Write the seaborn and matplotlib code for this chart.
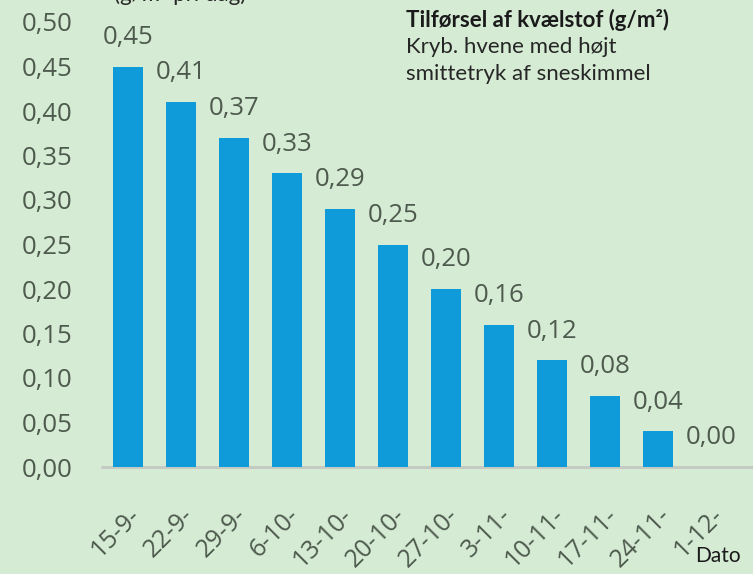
import matplotlib
matplotlib.use("Agg")
import matplotlib.pyplot as plt
import seaborn as sns
import pandas as pd

# Data
dates = ["15-9-", "22-9-", "29-9-", "6-10-", "13-10-", "20-10-",
         "27-10-", "3-11-", "10-11-", "17-11-", "24-11-", "1-12-"]
nitrogen = [0.45, 0.41, 0.37, 0.33, 0.29, 0.25,
            0.20, 0.16, 0.12, 0.08, 0.04, 0.00]
yticks = [0.0, 0.05, 0.10, 0.15, 0.20, 0.25, 0.30, 0.35, 0.40, 0.45, 0.50]

BG = "#d5ebd4"
BAR = "#0f9ad9"
GREY = "#4d5a4d"
NUMFONT = ['Open Sans', 'DejaVu Sans']

sns.set_theme(style="white")
plt.rcParams['font.family'] = ['Lato', 'DejaVu Sans']

df = pd.DataFrame({"Dato": dates, "N": nitrogen})

fig = plt.figure(figsize=(7.53, 5.74), dpi=100, facecolor=BG)
ax = fig.add_axes([101.5 / 753, 107 / 574, (753 - 101.5) / 753, 445 / 574])
ax.set_facecolor(BG)

sns.barplot(data=df, x="Dato", y="N", color=BAR, width=0.57,
            saturation=1, linewidth=0, ax=ax)

# Value labels above bars
labels = [f"{v:.2f}".replace(".", ",") for v in nitrogen]
ax.bar_label(ax.containers[0], labels=labels, padding=12, fontsize=18.5,
             color=GREY, family=NUMFONT, clip_on=False)

ax.set_ylim(0, 0.5)
ax.set_xlim(-0.5, 11.79)
ax.set_yticks(yticks)
ax.set_yticklabels([f"{t:.2f}".replace(".", ",") for t in yticks],
                   fontsize=18.5, color=GREY, family=NUMFONT)
ax.set_xticks(range(len(dates)))
ax.set_xticklabels(dates, rotation=45, ha="right", rotation_mode="anchor",
                   fontsize=18, color=GREY, family=NUMFONT)
ax.tick_params(axis="x", length=0, pad=26)
ax.tick_params(axis="y", length=0, pad=21)
ax.set_xlabel("")
ax.set_ylabel("")
sns.despine(ax=ax, left=True, bottom=True, top=True, right=True)
ax.axhline(0, color="#c3cbc3", lw=2.2, clip_on=False, zorder=0)

# Texts around the plot
fig.text(406 / 753, 1 - 20 / 574, "Tilførsel af kvælstof (g/m²)",
         fontsize=16, fontweight="bold", color="#1a1a1a", va="center")
fig.text(406 / 753, 1 - 47 / 574, "Kryb. hvene med højt",
         fontsize=16, color="#262626", va="center")
fig.text(406 / 753, 1 - 74 / 574, "smittetryk af sneskimmel",
         fontsize=16, color="#262626", va="center")
fig.text(180 / 753, 1 + 6 / 574, "(g/m² pr. dag)", fontsize=16,
         color="#262626", ha="center", va="center")
fig.text(695 / 753, 1 - 556 / 574, "Dato", fontsize=15,
         color="#1a1a1a", va="center")

fig.savefig("out.png", dpi=100, facecolor=BG)
